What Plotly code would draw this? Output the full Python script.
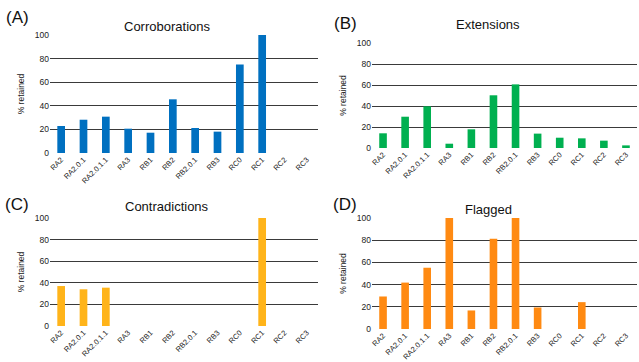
import plotly.graph_objects as go

categories = ["RA2", "RA2.0.1", "RA2.0.1.1", "RA3", "RB1", "RB2", "RB2.0.1", "RB3", "RC0", "RC1", "RC2", "RC3"]
corroborations = [22.9, 28.2, 30.8, 20.6, 17.2, 45.5, 21.2, 18.1, 74.9, 100, 0, 0]
extensions = [14.0, 29.8, 39.7, 4.1, 17.8, 50.2, 60.6, 13.7, 9.8, 9.2, 7.0, 2.5]
contradictions = [37.0, 34.0, 35.5, 0, 0, 0, 0, 0, 0, 100, 0, 0]
flagged = [29.3, 41.8, 55.2, 100, 16.7, 81.2, 100, 19.4, 0, 24.2, 0, 0]
y_ticks = [0, 20, 40, 60, 80, 100]

W, H = 639, 362
panels = [
    dict(name="Corroborations", label="(A)", vals=corroborations, color="#0070C0",
         x=(50, 318), y=(153, 35), title=(167, 26), lab=(17, 18)),
    dict(name="Extensions", label="(B)", vals=extensions, color="#00B050",
         x=(372, 637), y=(148, 43), title=(488, 24), lab=(345, 23)),
    dict(name="Contradictions", label="(C)", vals=contradictions, color="#FFB41A",
         x=(50, 318), y=(326, 218), title=(167, 206), lab=(17, 204)),
    dict(name="Flagged", label="(D)", vals=flagged, color="#FF8A12",
         x=(372, 637), y=(329, 218), title=(488, 209), lab=(345, 204)),
]

fig = go.Figure()
font_family = "Liberation Sans, Arial, sans-serif"
annotations = []
for i, p in enumerate(panels):
    n = "" if i == 0 else str(i + 1)
    fig.add_trace(go.Bar(x=categories, y=p["vals"], xaxis="x" + n, yaxis="y" + n,
                         marker=dict(color=p["color"], line=dict(width=0)),
                         showlegend=False))
    xd = [p["x"][0] / W, p["x"][1] / W]
    yd = [1 - p["y"][0] / H, 1 - p["y"][1] / H]
    fig.update_layout(**{
        "xaxis" + n: dict(domain=xd, anchor="y" + n, tickangle=-45, showgrid=False,
                          showline=False, ticks="", tickfont=dict(size=7.5, color="#222"),
                          tickmode="array", tickvals=categories, ticktext=categories,
                          categoryorder="array", categoryarray=categories,
                          ticklabeloverflow="allow", automargin=False),
        "yaxis" + n: dict(domain=yd, anchor="x" + n, range=[0, 100], tickvals=y_ticks,
                          showgrid=True, gridcolor="#3a3a3a", gridwidth=1,
                          zeroline=True, zerolinecolor="rgba(0,0,0,0)",
                          showline=False, ticks="", tickfont=dict(size=8.5, color="#222"),
                          automargin=False,
                          title=dict(text="% retained", font=dict(size=8.5, color="#222"), standoff=8)),
    })
    annotations.append(dict(text=p["name"], x=p["title"][0] / W, y=1 - p["title"][1] / H,
                            xref="paper", yref="paper", showarrow=False,
                            font=dict(size=13, color="#111", family=font_family),
                            xanchor="center", yanchor="middle"))
    annotations.append(dict(text=p["label"], x=p["lab"][0] / W, y=1 - p["lab"][1] / H,
                            xref="paper", yref="paper", showarrow=False,
                            font=dict(size=17, color="#111", family=font_family),
                            xanchor="center", yanchor="middle"))

fig.update_layout(width=W, height=H, margin=dict(l=0, r=0, t=0, b=0),
                  paper_bgcolor="white", plot_bgcolor="white", bargap=0.655,
                  font=dict(family=font_family), annotations=annotations)
fig.write_html("out.html", config={"displayModeBar": False},
               post_script="document.body.style.margin='0';document.body.style.overflow='hidden';")
